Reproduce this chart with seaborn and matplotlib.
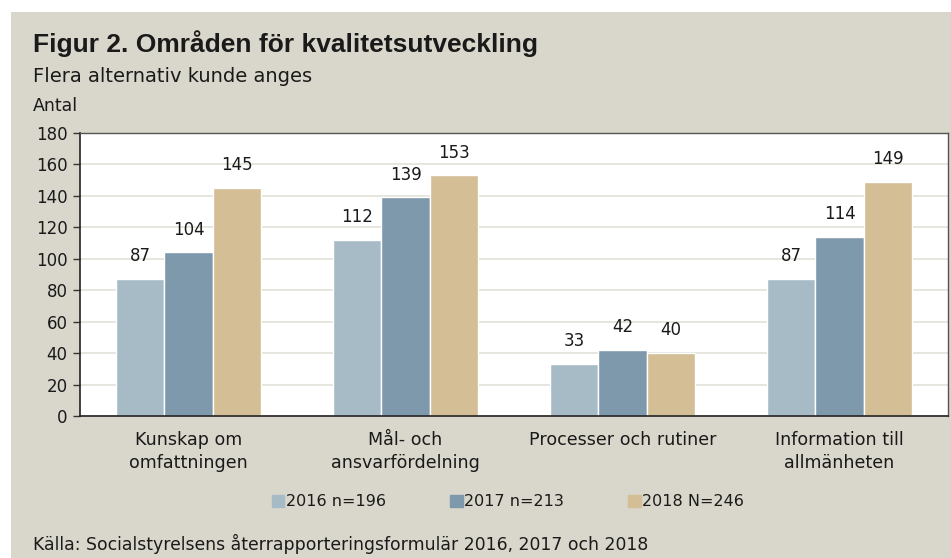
import pandas as pd
import numpy as np
import matplotlib.pyplot as plt
import matplotlib.patches as mpatches
import seaborn as sns

# Data
categories = ["Kunskap om\nomfattningen", "Mål- och\nansvarfördelning",
              "Processer och rutiner", "Information till\nallmänheten"]
series = ["2016 n=196", "2017 n=213", "2018 N=246"]
v2016 = [87, 112, 33, 87]
v2017 = [104, 139, 42, 114]
v2018 = [145, 153, 40, 149]
colors = ["#A7BBC6", "#7D99AB", "#D3BE95"]
y_ticks = [0, 20, 40, 60, 80, 100, 120, 140, 160, 180]

df = pd.DataFrame({
    "kategori": categories * 3,
    "serie": np.repeat(series, len(categories)),
    "antal": v2016 + v2017 + v2018,
})

sns.set_theme(style="white")
plt.rcParams["font.family"] = ["DejaVu Sans"]
bg = "#D9D7CB"
txt = "#1a1a1a"

fig = plt.figure(figsize=(9.51, 5.58), dpi=100, facecolor="white")
# beige panel with white margin at top and left
fig.patches.append(mpatches.Rectangle((11 / 951, 0), 1, 1 - 12 / 558,
                                      transform=fig.transFigure, facecolor=bg,
                                      edgecolor="none", zorder=-10))

ax = fig.add_axes([80 / 951, 1 - 416 / 558, 868 / 951, 283 / 558])
sns.barplot(data=df, x="kategori", y="antal", hue="serie", palette=colors,
            width=0.664, gap=0, saturation=1, ax=ax, legend=False)

for c in ax.containers:
    ax.bar_label(c, padding=10, fontsize=12, color=txt)

ax.set_ylim(0, 180)
ax.set_yticks(y_ticks)
ax.set_xlabel("")
ax.set_ylabel("")
ax.yaxis.grid(True, color="#E2E1D8", linewidth=1.2)
ax.set_axisbelow(True)
ax.tick_params(axis="y", left=True, length=5, width=1, color="#333333",
               labelsize=12, labelcolor=txt, pad=4)
ax.tick_params(axis="x", bottom=False, labelsize=12.6, labelcolor=txt, pad=5)
for lab in ax.get_xticklabels():
    lab.set_linespacing(1.35)
for s in ["top", "right"]:
    ax.spines[s].set_color("#555555")
    ax.spines[s].set_linewidth(1)
for s in ["left", "bottom"]:
    ax.spines[s].set_color("#222222")
    ax.spines[s].set_linewidth(1.2)

fig.text(33 / 951, 1 - 52 / 558, "Figur 2. Områden för kvalitetsutveckling",
         fontsize=19, fontweight="bold", family="Liberation Sans", color=txt)
fig.text(33 / 951, 1 - 82 / 558, "Flera alternativ kunde anges",
         fontsize=14, color=txt)
fig.text(33 / 951, 1 - 111 / 558, "Antal", fontsize=12.5, color=txt)
fig.text(33 / 951, 1 - 550 / 558,
         "Källa: Socialstyrelsens återrapporteringsformulär 2016, 2017 och 2018",
         fontsize=12.4, color=txt)

handles = [mpatches.Patch(color=c, label=s) for c, s in zip(colors, series)]
fig.legend(handles=handles, loc="center", bbox_to_anchor=(508 / 951, 1 - 502 / 558),
           ncol=3, frameon=False, fontsize=11.5, handlelength=0.8, handleheight=0.8,
           handletextpad=0.1, columnspacing=4.0, labelcolor=txt)

fig.savefig("out.png", dpi=100, facecolor=fig.get_facecolor())
